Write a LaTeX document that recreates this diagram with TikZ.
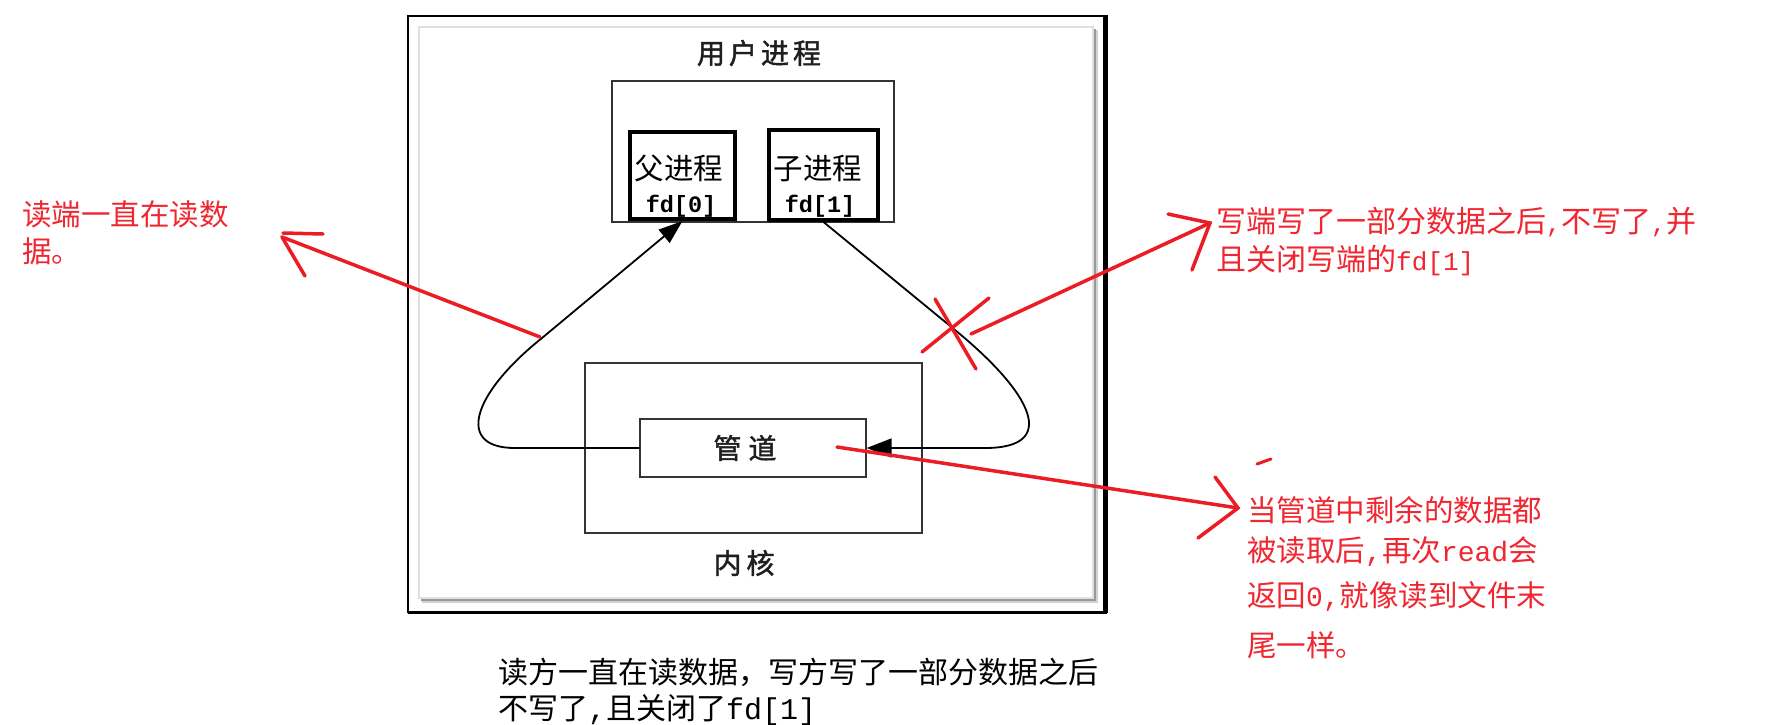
\documentclass[tikz,border=0pt]{standalone}
\usepackage{fontspec}
\newfontfamily\cjk{Noto Sans CJK SC}
\newfontfamily\cjkb[FakeBold=1.6]{Noto Sans CJK SC}
\newfontfamily\lmono{Liberation Mono}
\usetikzlibrary{arrows.meta}
\definecolor{redline}{RGB}{236,28,36}
\definecolor{redtext}{RGB}{240,38,48}
\newcommand{\hw}[2]{{\lmono\fontsize{#1}{#1}\selectfont#2}}
\begin{document}
\begin{tikzpicture}[x=1pt,y=-1pt,
  thinbox/.style={draw=black!80, line width=1.3pt, inner sep=0},
  thickbox/.style={draw=black, line width=4pt, inner sep=0},
  boldlabel/.style={font=\cjkb\fontsize{28}{28}\selectfont, text=black!88, inner sep=0},
  proc/.style={font=\cjk\fontsize{29.5}{29.5}\selectfont, inner sep=0},
  fdlab/.style={font=\lmono\bfseries\fontsize{23.5}{23.5}\selectfont, inner sep=0},
  flow/.style={draw=black, line width=1.8pt},
  note/.style={text=redtext, anchor=base west, inner sep=0},
  blacknote/.style={text=black, anchor=base west, inner sep=0},
  redstroke/.style={draw=redline, line width=3.5pt, line cap=round},
]
\path[use as bounding box, fill=white] (0,0) rectangle (1770,725);

% outer frame with shadowed inner border
\draw[black, line width=1.6pt] (408,16) rectangle (1105,612);
\draw[black, line width=5pt] (1105,15) -- (1105,613);
\draw[black, line width=3pt] (408,612) -- (1107,612);
\fill[black!18] (422,30) rectangle (1098,603);
\fill[black!40] (421,29) rectangle (1095.5,600.5);
\filldraw[fill=white, draw=black!12, line width=1.5pt] (419,27) rectangle (1093,598);

% user process
\node[boldlabel] (title) at (759,53) {用\kern4pt户\kern4pt进\kern4pt程};
\node[thinbox, minimum width=282, minimum height=141] (user) at (753,151.5) {};
\node[thickbox, minimum width=105, minimum height=87] (parent) at (682.5,175.5) {};
\node[thickbox, minimum width=109, minimum height=90] (child) at (823.5,175) {};
\node[proc] (ptext) at (679,168.5) {父进程};
\node[fdlab] (pfd) at (681,206) {fd[0]};
\node[proc] (ctext) at (818,168.5) {子进程};
\node[fdlab] (cfd) at (820,206) {fd[1]};

% kernel
\node[thinbox, minimum width=337, minimum height=170] (kernel) at (753.5,448) {};
\node[thinbox, minimum width=226, minimum height=58] (pipe) at (753,448) {};
\node[boldlabel] (pipetext) at (745,448) {管\kern7pt道};
\node[boldlabel] (kerneltext) at (744,563) {内\kern5pt核};

% flows
\draw[flow, -{Triangle[length=24pt,width=17pt]}] (pipe.west) -- (515,448)
  .. controls (455,448) and (472,394) .. (542,338) -- (parent.south);
\draw[flow, -{Triangle[length=25pt,width=19pt]}] (child.south) -- (955,330)
  .. controls (1032,393) and (1060,448) .. (985,448) -- (pipe.east);

% red annotations: left
\node[note, font=\cjk\fontsize{29.5}{29.5}\selectfont] (lnote1) at (22,225) {读端一直在读数};
\node[note, font=\cjk\fontsize{29.5}{29.5}\selectfont] (lnote2) at (22,262) {据。};
\coordinate (lA) at (540,337);
\coordinate (lT) at (282,237);
\draw[redstroke] (lA) -- (lT);
\draw[redstroke] (283,233) -- (323,234);
\draw[redstroke] (lT) -- (305,276);

% red annotations: cross and upper right
\draw[redstroke] (935,299) -- (976,369);
\draw[redstroke] (989,298) -- (922,352);
\coordinate (uA) at (971,334);
\coordinate (uT) at (1210,223);
\draw[redstroke] (uA) -- (uT);
\draw[redstroke] (1168,214) -- (uT) -- (1192,270);
\node[note, font=\cjk\fontsize{30}{30}\selectfont] (unote1) at (1216,232) {写端写了一部分数据之后\hw{25}{,}不写了\hw{25}{,}并};
\node[note, font=\cjk\fontsize{30}{30}\selectfont] (unote2) at (1216,270) {且关闭写端的\hw{26}{fd[1]}};

% red annotations: lower right
\coordinate (dA) at (837,447);
\coordinate (dT) at (1238,508);
\draw[redstroke] (dA) -- (dT);
\draw[redstroke] (1215,477) -- (dT) -- (1198,538);
\draw[redstroke, line width=3pt] (1257,464) -- (1271,459);
\node[note, font=\cjk\fontsize{29.5}{29.5}\selectfont] (dnote1) at (1247,521) {当管道中剩余的数据都};
\node[note, font=\cjk\fontsize{29.5}{29.5}\selectfont] (dnote2) at (1247,561) {被读取后\hw{28}{,}再次\hw{28}{read}会};
\node[note, font=\cjk\fontsize{29.5}{29.5}\selectfont] (dnote3) at (1247,606) {返回\hw{28}{0,}就像读到文件末};
\node[note, font=\cjk\fontsize{29.5}{29.5}\selectfont] (dnote4) at (1247,656) {尾一样。};

% caption
\node[blacknote, font=\cjk\fontsize{30}{30}\selectfont] (cap1) at (498,683) {读方一直在读数据，写方写了一部分数据之后};
\node[blacknote, font=\cjk\fontsize{30}{30}\selectfont] (cap2) at (498,719) {不写了\hw{30}{,}且关闭了\hw{30}{fd[1]}};
\end{tikzpicture}
\end{document}
